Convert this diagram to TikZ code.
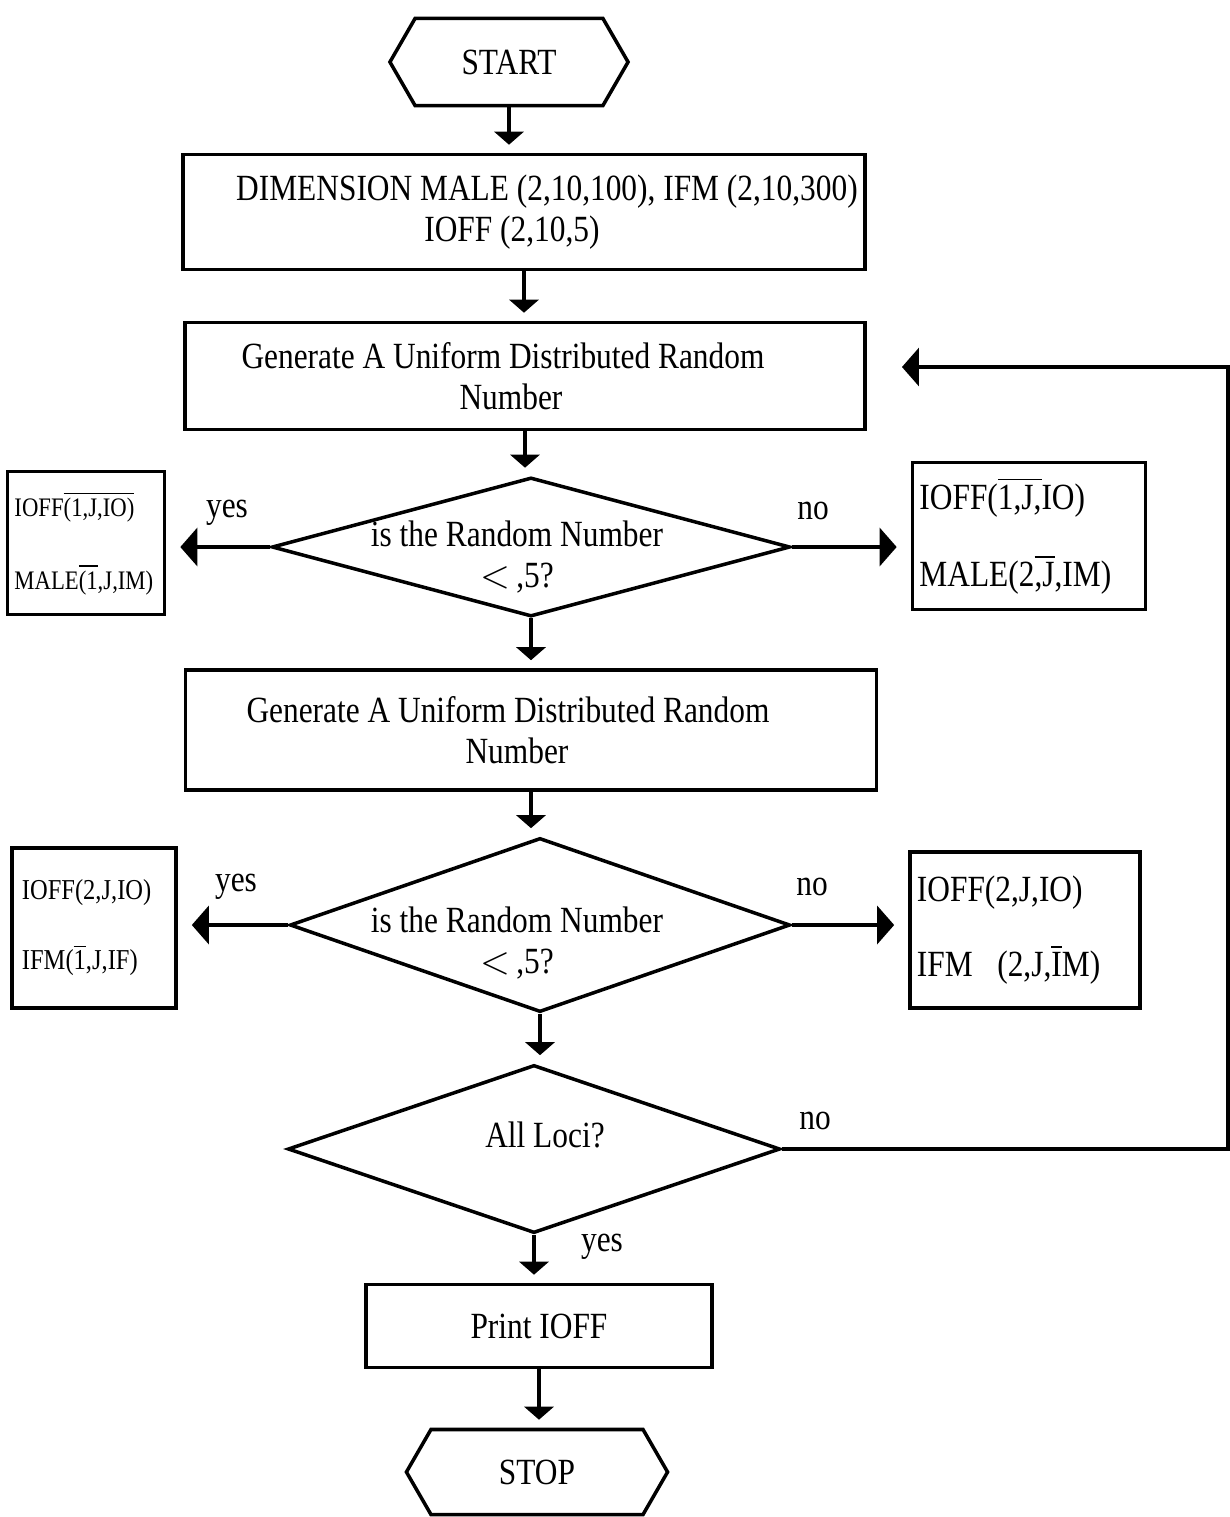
\documentclass[tikz,border=0pt]{standalone}
\usepackage{fontspec}
\setmainfont{Liberation Serif}[FakeStretch=0.85]
\usepackage{amsmath}
\usetikzlibrary{positioning}
\usetikzlibrary{shapes.geometric,shapes.symbols,arrows.meta}

\begin{document}
\begin{tikzpicture}[
        x = 0.01cm, y = -0.01cm, line width = 1pt,
        every node/.style = {font = \fontsize{10.5}{11.5}\selectfont, inner sep = 0pt},
        term/.style = {draw, signal, signal to = west and east, signal pointer angle = 120},
        process/.style = {draw, rectangle, align = center},
        decision/.style = {draw, diamond},
        question/.style = {align = center},
        output/.style = {draw, rectangle, align = left, inner xsep = 0.07cm},
        down/.style = {-{Triangle[width = 0.29cm, length = 0.13cm]}, shorten > = 0.08cm},
        side/.style = {-{Triangle[width = 0.38cm, length = 0.17cm]}, shorten > = 0.14cm}
        ]
        \useasboundingbox (0,0) rectangle (1230,1517);

        % main column
        \node[term, minimum width = 2.38cm, minimum height = 0.87cm] (start) at (509,62) {START};
        \node[process, minimum width = 6.82cm, minimum height = 1.15cm] (dim) at (524,212)
            {\hspace*{0.46cm}DIMENSION MALE (2,10,100), IFM (2,10,300)\\IOFF (2,10,5)\hspace*{0.24cm}};
        \node[process, minimum width = 6.80cm, minimum height = 1.07cm] (gen1) at (525,376)
            {Generate A Uniform Distributed Random\hspace*{0.44cm}\\Number\hspace*{0.28cm}};
        \node[decision, minimum width = 5.18cm, minimum height = 1.39cm] (d1) at (531,547) {};
        \node[question] (d1q) at (517,557) {is the Random Number\\$<$\,,5?};
        \node[process, minimum width = 6.91cm, minimum height = 1.20cm] (gen2) at (531,730)
            {Generate A Uniform Distributed Random\hspace*{0.46cm}\\Number\hspace*{0.28cm}};
        \node[decision, minimum width = 5.00cm, minimum height = 1.74cm] (d2) at (540,925) {};
        \node[question] (d2q) at (517,943) {is the Random Number\\$<$\,,5?};
        \node[decision, minimum width = 4.92cm, minimum height = 1.68cm] (d3) at (534,1149) {};
        \node[question] (d3q) at (545,1135) {All Loci?};
        \node[process, minimum width = 3.46cm, minimum height = 0.83cm] (print) at (539,1326) {Print IOFF};
        \node[term, minimum width = 2.61cm, minimum height = 0.85cm] (stop) at (537,1472) {STOP};

        % side boxes
        \node[output, minimum width = 1.57cm, minimum height = 1.43cm, text width = 1.43cm,
              font = \fontsize{7.6}{9}\selectfont] (off1m) at (86,543)
            {IOFF$\overline{\mbox{(1,J,IO)}}$\\[11.7pt]MALE$\overline{\mbox{(1}}$,J,IM)};
        \node[output, minimum width = 2.33cm, minimum height = 1.47cm, text width = 2.19cm] (off1f) at (1029,536)
            {IOFF($\overline{\mbox{1,J,}}$IO)\\[10.5pt]MALE(2$\overline{\mbox{,J}}$,IM)};
        \node[output, minimum width = 1.64cm, minimum height = 1.60cm, text width = 1.44cm,
              inner xsep = 0.1cm, font = \fontsize{8.2}{9.5}\selectfont] (off2m) at (94,928)
            {IOFF(2,J,IO)\\[10.4pt]IFM($\overline{\mbox{1}}$,J,IF)};
        \node[output, minimum width = 2.30cm, minimum height = 1.56cm, text width = 2.16cm] (off2f) at (1025,930)
            {IOFF(2,J,IO)\\[9.8pt]IFM\ \ (2,J,$\overline{\mbox{I}}$M)};

        % labels
        \node (d1yes) at (227,513) {yes};
        \node (d1no) at (813,511) {no};
        \node (d2yes) at (236,887) {yes};
        \node (d2no) at (812,887) {no};
        \node (d3no) at (815,1121) {no};
        \node (d3yes) at (602,1247) {yes};

        % connectors
        \draw[down] (start.south) -- (start.south |- dim.north);
        \draw[down] (dim.south) -- (dim.south |- gen1.north);
        \draw[down] (gen1.south) -- (gen1.south |- d1.north);
        \draw[down] (d1.south) -- (d1.south |- gen2.north);
        \draw[down] (gen2.south) -- (gen2.south |- d2.north);
        \draw[down] (d2.south) -- (d2.south |- d3.north);
        \draw[down] (d3.south) -- (d3.south |- print.north);
        \draw[down] (print.south) -- (print.south |- stop.north);
        \draw[side] (d1.west) -- (off1m.east |- d1.west);
        \draw[side] (d1.east) -- (off1f.west |- d1.east);
        \draw[side] (d2.west) -- (off2m.east |- d2.west);
        \draw[side] (d2.east) -- (off2f.west |- d2.east);
        \coordinate (back) at (1228,367);
        \draw[side, shorten > = 0.35cm] (d3.east) -| (back) -- (back -| gen1.east);
\end{tikzpicture}
\end{document}
